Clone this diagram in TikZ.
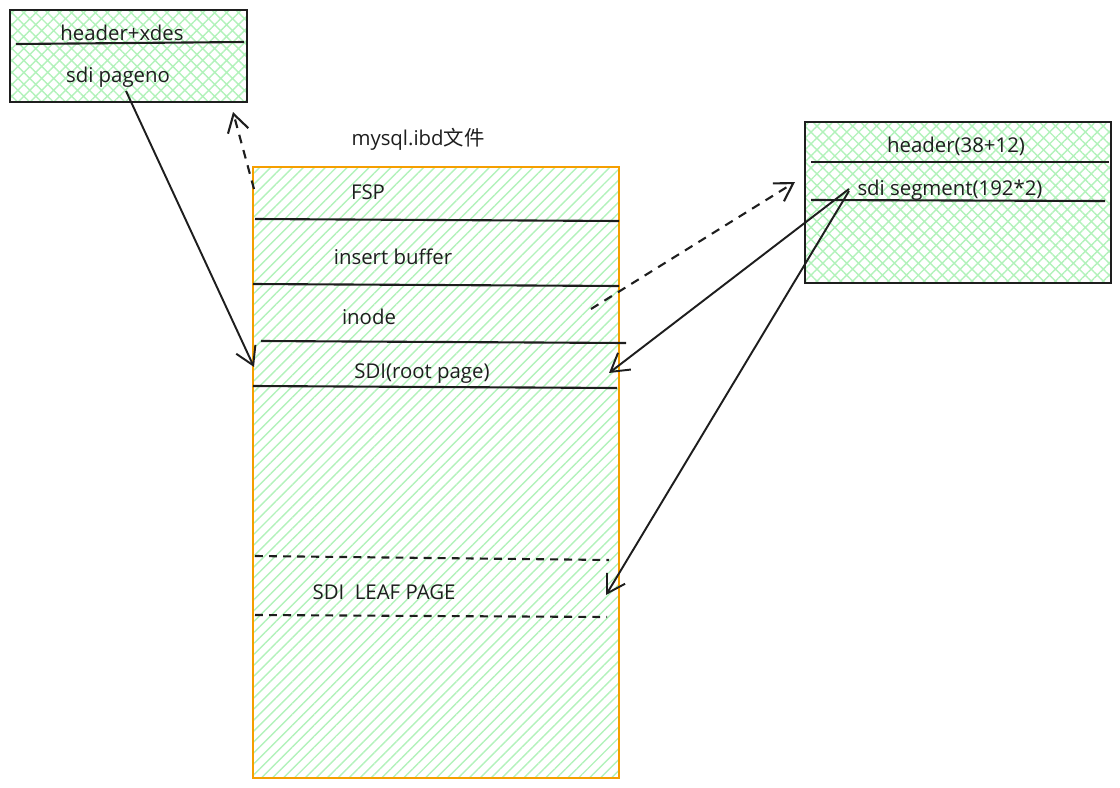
\documentclass[tikz,border=0pt]{standalone}
\usepackage{fontspec}
\setmainfont{Open Sans}
\newfontfamily\cjkfont{Noto Sans CJK SC}
\usetikzlibrary{positioning,calc,arrows.meta,patterns.meta}

\definecolor{ink}{HTML}{1E1E1E}
\definecolor{hatchgreen}{HTML}{B2F2BB}
\definecolor{fileorange}{HTML}{F59F00}

\begin{document}
\begin{tikzpicture}[
  x=0.02cm, y=-0.02cm,
  font=\fontsize{11.6}{13}\selectfont, text=ink,
  metabox/.style={draw=ink, line width=1.1pt, inner sep=0pt, outer sep=0pt,
    pattern={Hatch[angle=45, distance=4.8pt, line width=0.8pt]}, pattern color=hatchgreen},
  filebox/.style={draw=fileorange, line width=1.2pt, inner sep=0pt, outer sep=0pt,
    pattern={Lines[angle=45, distance=4.4pt, line width=0.8pt]}, pattern color=hatchgreen},
  label/.style={inner sep=1pt},
  rule/.style={draw=ink, line width=1.2pt},
  dashrule/.style={rule, dash pattern=on 4.5pt off 3.5pt},
  link/.style={draw=ink, line width=1.1pt, -{Straight Barb[length=10pt, width=12pt]}},
  dashlink/.style={link, line width=1.2pt, dash pattern=on 5pt off 4pt}]
\useasboundingbox (0,0) rectangle (1120,788);

% boxes
\node[metabox, minimum width=4.74cm, minimum height=1.84cm] (xdes) at (128.5,56) {};
\node[metabox, minimum width=6.12cm, minimum height=3.22cm] (segment) at (958,202.5) {};
\node[filebox, minimum width=7.32cm, minimum height=12.22cm] (ibd) at (436,472.5) {};

% dividers
\draw[rule] (16,44) -- (244,42);
\draw[rule] (811,162) -- (1109,162);
\draw[rule] (811,200) -- (1105,201);
\draw[rule] (255,219) -- (619,221);
\draw[rule] (253,284) -- (619,286);
\draw[rule] (261,341) -- (626,343);
\draw[rule] (253,386) -- (617,388);
\draw[dashrule] (255,556) -- (609,560);
\draw[dashrule] (255,615) -- (607,617);

% texts
\node[label] (hdrxdes) at (122,33) {header+xdes};
\node[label] (pageno) at (118,77) {sdi pageno};
\node[label] (hdrseg) at (956,146) {header(38+12)};
\node[label] (sdiseg) at (950,190) {sdi segment(192*2)};
\node[label] (title) at (418,139) {mysql.ibd{\cjkfont 文件}};
\node[label] (fsp) at (368,192) {FSP};
\node[label] (ibuf) at (393,257) {insert buffer};
\node[label] (inode) at (369,317) {inode};
\node[label] (root) at (422,374) {SDI(root page)};
\node[label] (leaf) at (384,592) {SDI\ \ LEAF PAGE};

% connector ends
\coordinate (pagenoTail) at (126,91);
\coordinate (rootLeft) at (254,367);
\coordinate (fspTail) at (254,189);
\coordinate (xdesTip) at (233,112);
\coordinate (inodeTail) at (591,309);
\coordinate (segTip) at (795,182);
\coordinate (segTail) at (849,189);
\coordinate (segTail2) at (849,191);
\coordinate (rootRight) at (609,373);
\coordinate (leafRight) at (606,595);

\draw[link] (pagenoTail) -- (rootLeft);
\draw[dashlink] (fspTail) -- (xdesTip);
\draw[dashlink] (inodeTail) -- (segTip);
\draw[link] (segTail) -- (rootRight);
\draw[link] (segTail2) -- (leafRight);
\end{tikzpicture}
\end{document}
